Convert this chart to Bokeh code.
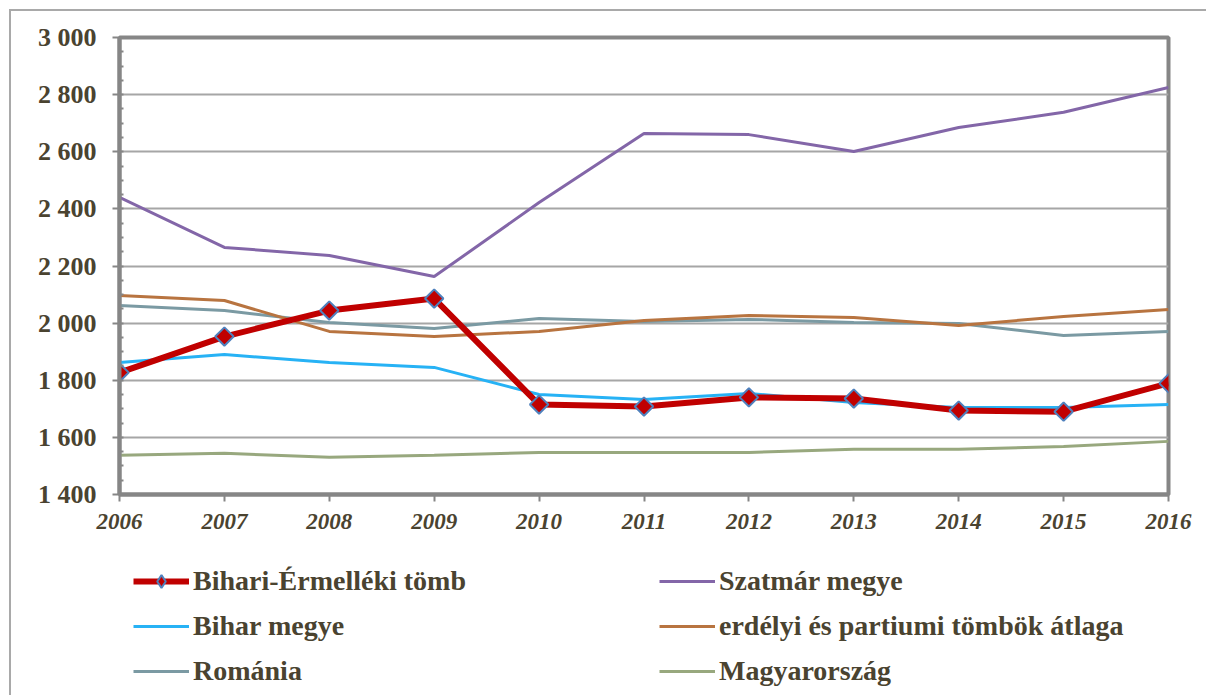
import math
from bokeh.plotting import figure
from bokeh.layouts import column
from bokeh.models import Range1d, Legend, LegendItem, FixedTicker
from bokeh.embed import file_html
from bokeh.resources import INLINE

years = [2006, 2007, 2008, 2009, 2010, 2011, 2012, 2013, 2014, 2015, 2016]
bihari_ermelleki = [1827, 1953, 2044, 2086, 1715, 1708, 1740, 1736, 1694, 1690, 1789]
szatmar = [2440, 2265, 2237, 2163, 2422, 2664, 2660, 2601, 2685, 2738, 2825]
bihar = [1862, 1890, 1862, 1845, 1750, 1733, 1754, 1722, 1705, 1705, 1715]
erdelyi_atlag = [2097, 2079, 1971, 1953, 1971, 2009, 2027, 2020, 1992, 2023, 2048]
romania = [2062, 2044, 2002, 1981, 2016, 2006, 2013, 2002, 1999, 1957, 1971]
magyarorszag = [1537, 1544, 1530, 1537, 1547, 1547, 1547, 1558, 1558, 1568, 1586]
yticks = [1400, 1600, 1800, 2000, 2200, 2400, 2600, 2800, 3000]
yminor = list(range(1400, 3001, 50))

labels = ["Bihari-Érmelléki tömb", "Szatmár megye", "Bihar megye",
          "erdélyi és partiumi tömbök átlaga", "Románia", "Magyarország"]

TXT = "#4a4330"
FONT = "Liberation Serif"
GRID = "#a6a6a6"
AX = "#868686"

series = {
    "mag": (magyarorszag, dict(line_color="#98a87e", line_width=3)),
    "rom": (romania, dict(line_color="#7b9aa3", line_width=3)),
    "erd": (erdelyi_atlag, dict(line_color="#b87440", line_width=3)),
    "szat": (szatmar, dict(line_color="#8366a8", line_width=3)),
    "bihar": (bihar, dict(line_color="#27b2f5", line_width=3)),
    "be": (bihari_ermelleki, dict(line_color="#c00000", line_width=6)),
}
marker_style = dict(marker="square", angle=math.pi / 4, size=13, fill_color="#c00000",
                    line_color="#4f81bd", line_width=2)
legend_marker_style = dict(marker="diamond", size=19, fill_color="#c00000",
                           line_color="#4f81bd", line_width=2)

W = 1195
p = figure(width=W, height=531, output_backend="svg", toolbar_location=None,
           x_range=Range1d(2006, 2016), y_range=Range1d(1400, 3000),
           min_border_left=108, min_border_top=26, min_border_right=38,
           min_border_bottom=48)

p.outline_line_color = AX
p.outline_line_width = 4
p.xgrid.grid_line_color = None
p.ygrid.grid_line_color = GRID
p.ygrid.grid_line_width = 2
p.ygrid.ticker = FixedTicker(ticks=yticks)

p.yaxis.ticker = FixedTicker(ticks=yticks, minor_ticks=yminor)
p.yaxis.major_label_overrides = {v: f"{v:,}".replace(",", " ") for v in yticks}
p.xaxis.ticker = FixedTicker(ticks=years)
p.xaxis.major_label_overrides = {v: str(v) for v in years}

for ax in (p.xaxis[0], p.yaxis[0]):
    ax.axis_line_color = AX
    ax.axis_line_width = 4
    ax.major_tick_line_color = AX
    ax.major_tick_line_width = 2
    ax.major_tick_out = 7
    ax.major_tick_in = 0
    ax.major_label_text_font = FONT
    ax.major_label_text_font_style = "bold"
    ax.major_label_text_color = TXT
p.yaxis.minor_tick_line_color = AX
p.yaxis.minor_tick_line_width = 2
p.yaxis.minor_tick_in = 4
p.yaxis.minor_tick_out = 0
p.xaxis.minor_tick_line_color = None
p.yaxis.major_label_text_font_size = "26px"
p.yaxis.major_label_standoff = 16
p.xaxis.major_label_text_font_size = "23px"
p.xaxis.major_label_text_font_style = "bold italic"
p.xaxis.major_label_standoff = 12

for k, (vals, st) in series.items():
    p.line(years, vals, **st)
p.scatter(years, bihari_ermelleki, **marker_style)

# legend panel below the chart (proxy renderers lie outside its view)
q = figure(width=W, height=153, output_backend="svg", toolbar_location=None,
           x_range=Range1d(0, 1), y_range=Range1d(0, 1),
           x_axis_type=None, y_axis_type=None,
           min_border_left=0, min_border_right=0, min_border_top=0, min_border_bottom=0)
q.outline_line_color = None
q.xgrid.grid_line_color = None
q.ygrid.grid_line_color = None

lr = {k: q.line(years, vals, **st) for k, (vals, st) in series.items()}
lm = q.scatter(years, bihari_ermelleki, **legend_marker_style)

def mk_legend(items, x):
    lg = Legend(items=items, location=(x, 8), orientation="vertical",
                label_text_font=FONT, label_text_font_style="bold",
                label_text_font_size="28px", label_text_color=TXT,
                glyph_width=56, glyph_height=32, label_height=32,
                label_standoff=4, spacing=13, padding=0, margin=0,
                border_line_color=None, background_fill_alpha=0)
    q.add_layout(lg, "center")

mk_legend([LegendItem(label=labels[0], renderers=[lr["be"], lm]),
           LegendItem(label=labels[2], renderers=[lr["bihar"]]),
           LegendItem(label=labels[4], renderers=[lr["rom"]])], 14)
mk_legend([LegendItem(label=labels[1], renderers=[lr["szat"]]),
           LegendItem(label=labels[3], renderers=[lr["erd"]]),
           LegendItem(label=labels[5], renderers=[lr["mag"]])], 540)

layout = column(p, q, spacing=0,
                styles={"border-left": "2px solid #a9a9a9", "border-top": "2px solid #a9a9a9",
                        "margin-left": "9px", "margin-top": "9px"})

open("out.html", "w").write(file_html(layout, INLINE))
